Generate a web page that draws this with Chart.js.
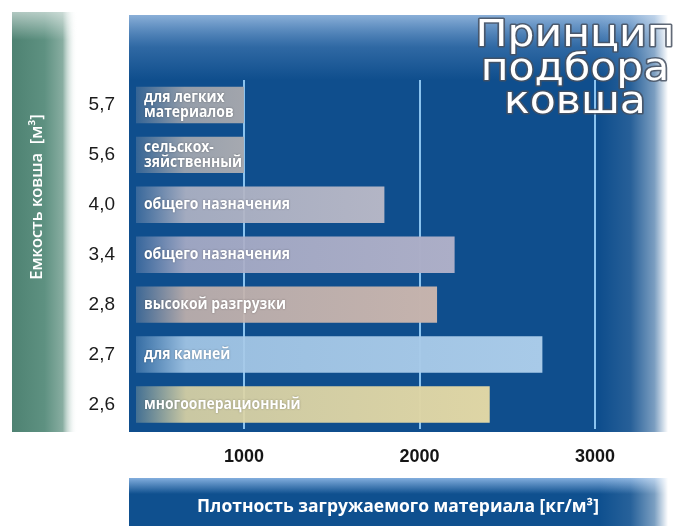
<!DOCTYPE html>
<html>
<head>
<meta charset="utf-8">
<script src="https://cdn.jsdelivr.net/npm/chart.js@4.4.1/dist/chart.umd.min.js"></script>
<style>
  html, body { margin: 0; padding: 0; background: #fff; }
  #wrap { width: 673px; height: 526px; position: relative; }
</style>
</head>
<body>
<div id="wrap"><canvas id="bucketChart"></canvas></div>
<script>
// bucket capacity [m3] per row, top to bottom
const capacities = ['5,7', '5,6', '4,0', '3,4', '2,8', '2,7', '2,6'];
// max material density [kg/m3] for each bucket
const densities = [1000, 1000, 1800, 2200, 2100, 2700, 2400];
const bucketTypes = [
  ['для легких', 'материалов'],
  ['сельскох-', 'зяйственный'],
  ['общего назначения'],
  ['общего назначения'],
  ['высокой разгрузки'],
  ['для камней'],
  ['многооперационный']
];
const densityTicks = [1000, 2000, 3000];
const titleLines = ['Принцип', 'подбора', 'ковша'];
const yTitle = 'Емкость ковша  [м³]';
const xTitle = 'Плотность загружаемого материала [кг/м³]';

const barColors = ['#a2a5ac', '#a6a9b0', '#b3b5c5', '#acaec7', '#c5b3ad', '#a8cae8', '#ded5a5'];

const hexToRgba = (hex, a) => {
  const n = parseInt(hex.slice(1), 16);
  return `rgba(${(n >> 16) & 255},${(n >> 8) & 255},${n & 255},${a})`;
};

const barFill = c => {
  const chart = c.chart;
  const area = chart.chartArea;
  const col = barColors[c.dataIndex];
  if (!area || !chart.scales.x) return col;
  const end = chart.scales.x.getPixelForValue(densities[c.dataIndex]);
  const g = chart.ctx.createLinearGradient(area.left, 0, end, 0);
  const t = Math.min(0.45, 50 / (end - area.left));
  g.addColorStop(0, hexToRgba(col, 0.25));
  g.addColorStop(t, hexToRgba(col, 0.9));
  g.addColorStop(1, hexToRgba(col, 1));
  return g;
};

const backdrop = {
  id: 'backdrop',
  beforeDraw(chart) {
    const ctx = chart.ctx;
    ctx.save();

    // green band behind the y title
    let g = ctx.createLinearGradient(12, 0, 77, 0);
    g.addColorStop(0, '#4e8272');
    g.addColorStop(0.5, '#5e9181');
    g.addColorStop(0.78, '#88ada1');
    g.addColorStop(1, 'rgba(255,255,255,0)');
    ctx.fillStyle = g;
    ctx.fillRect(12, 12, 65, 420);
    g = ctx.createLinearGradient(0, 10, 0, 40);
    g.addColorStop(0, 'rgba(255,255,255,0.6)');
    g.addColorStop(1, 'rgba(255,255,255,0)');
    ctx.fillStyle = g;
    ctx.fillRect(12, 12, 65, 30);

    // blue panel
    ctx.fillStyle = '#0f4e8d';
    ctx.fillRect(129, 15, 540, 417);
    g = ctx.createLinearGradient(0, 15, 0, 80);
    g.addColorStop(0, 'rgba(170,200,235,0.8)');
    g.addColorStop(0.5, 'rgba(120,165,215,0.3)');
    g.addColorStop(1, 'rgba(120,165,215,0)');
    ctx.fillStyle = g;
    ctx.fillRect(129, 15, 540, 65);

    // bottom band
    ctx.fillStyle = '#0f508f';
    ctx.fillRect(129, 478, 540, 48);
    g = ctx.createLinearGradient(0, 478, 0, 494);
    g.addColorStop(0, 'rgba(150,190,235,0.85)');
    g.addColorStop(1, 'rgba(150,190,235,0)');
    ctx.fillStyle = g;
    ctx.fillRect(129, 478, 540, 16);

    // right fade of both panels
    g = ctx.createLinearGradient(600, 0, 668, 0);
    g.addColorStop(0, 'rgba(255,255,255,0)');
    g.addColorStop(0.45, 'rgba(255,255,255,0.1)');
    g.addColorStop(0.8, 'rgba(255,255,255,0.45)');
    g.addColorStop(1, 'rgba(255,255,255,1)');
    ctx.fillStyle = g;
    ctx.fillRect(600, 15, 73, 417);
    ctx.fillRect(600, 478, 73, 48);

    // y title
    ctx.translate(37, 197);
    ctx.rotate(-Math.PI / 2);
    ctx.fillStyle = '#ffffff';
    ctx.font = '600 16.5px "Open Sans", sans-serif';
    ctx.textAlign = 'center';
    ctx.textBaseline = 'middle';
    ctx.fillText(yTitle, 0, 0);
    ctx.restore();
  },
  afterDatasetsDraw(chart) {
    const {ctx, chartArea} = chart;
    const meta = chart.getDatasetMeta(0);
    ctx.save();
    ctx.font = 'bold 16px "Open Sans", sans-serif';
    ctx.fillStyle = '#ffffff';
    ctx.textBaseline = 'middle';
    ctx.shadowColor = 'rgba(0,0,0,0.35)';
    ctx.shadowBlur = 2;
    meta.data.forEach((bar, i) => {
      const lines = bucketTypes[i];
      lines.forEach((line, j) => {
        ctx.save();
        ctx.translate(chartArea.left + 8, bar.y + (j - (lines.length - 1) / 2) * 15);
        ctx.scale(0.87, 1);
        ctx.fillText(line, 0, 0);
        ctx.restore();
      });
    });
    ctx.restore();
  },
  afterDraw(chart) {
    const ctx = chart.ctx;
    ctx.save();
    ctx.font = '37px "DejaVu Sans", sans-serif';
    ctx.textAlign = 'center';
    ctx.textBaseline = 'alphabetic';
    ctx.lineJoin = 'round';
    const baselines = [46, 80, 113];
    titleLines.forEach((line, i) => {
      ctx.save();
      ctx.translate(575, baselines[i]);
      ctx.scale(1.15, 1);
      ctx.strokeStyle = 'rgba(70,80,95,0.85)';
      ctx.lineWidth = 3;
      ctx.strokeText(line, 0, 0);
      ctx.fillStyle = '#ffffff';
      ctx.fillText(line, 0, 0);
      ctx.restore();
    });
    ctx.restore();
  }
};

new Chart(document.getElementById('bucketChart').getContext('2d'), {
  type: 'bar',
  data: {
    labels: capacities,
    datasets: [{
      data: densities,
      backgroundColor: barFill,
      borderWidth: 0,
      categoryPercentage: 1,
      barPercentage: 0.73
    }]
  },
  options: {
    indexAxis: 'y',
    responsive: true,
    maintainAspectRatio: false,
    animation: false,
    layout: { padding: { top: 80, right: 13, left: 0, bottom: 0 } },
    plugins: {
      legend: { display: false },
      tooltip: { enabled: false }
    },
    scales: {
      x: {
        type: 'linear',
        min: 385,
        max: 3370,
        afterBuildTicks: s => { s.ticks = densityTicks.map(v => ({ value: v })); },
        grid: { color: '#8ac3ef', lineWidth: 2, drawTicks: false },
        border: { display: false },
        ticks: {
          padding: 17,
          color: '#151515',
          font: { family: '"Liberation Sans", Arial, sans-serif', size: 18, weight: 'bold' },
          callback: v => String(v)
        },
        title: {
          display: true,
          text: xTitle,
          color: '#ffffff',
          font: { family: '"Open Sans", sans-serif', size: 17.5, weight: 'bold' },
          padding: { top: 12, bottom: 8 }
        }
      },
      y: {
        afterFit: s => { s.width = 136; },
        grid: { display: false, drawTicks: false },
        border: { display: false },
        ticks: {
          padding: 21,
          color: '#1b1b1b',
          font: { family: '"Liberation Sans", Arial, sans-serif', size: 19 }
        }
      }
    }
  },
  plugins: [backdrop]
});
</script>
</body>
</html>
